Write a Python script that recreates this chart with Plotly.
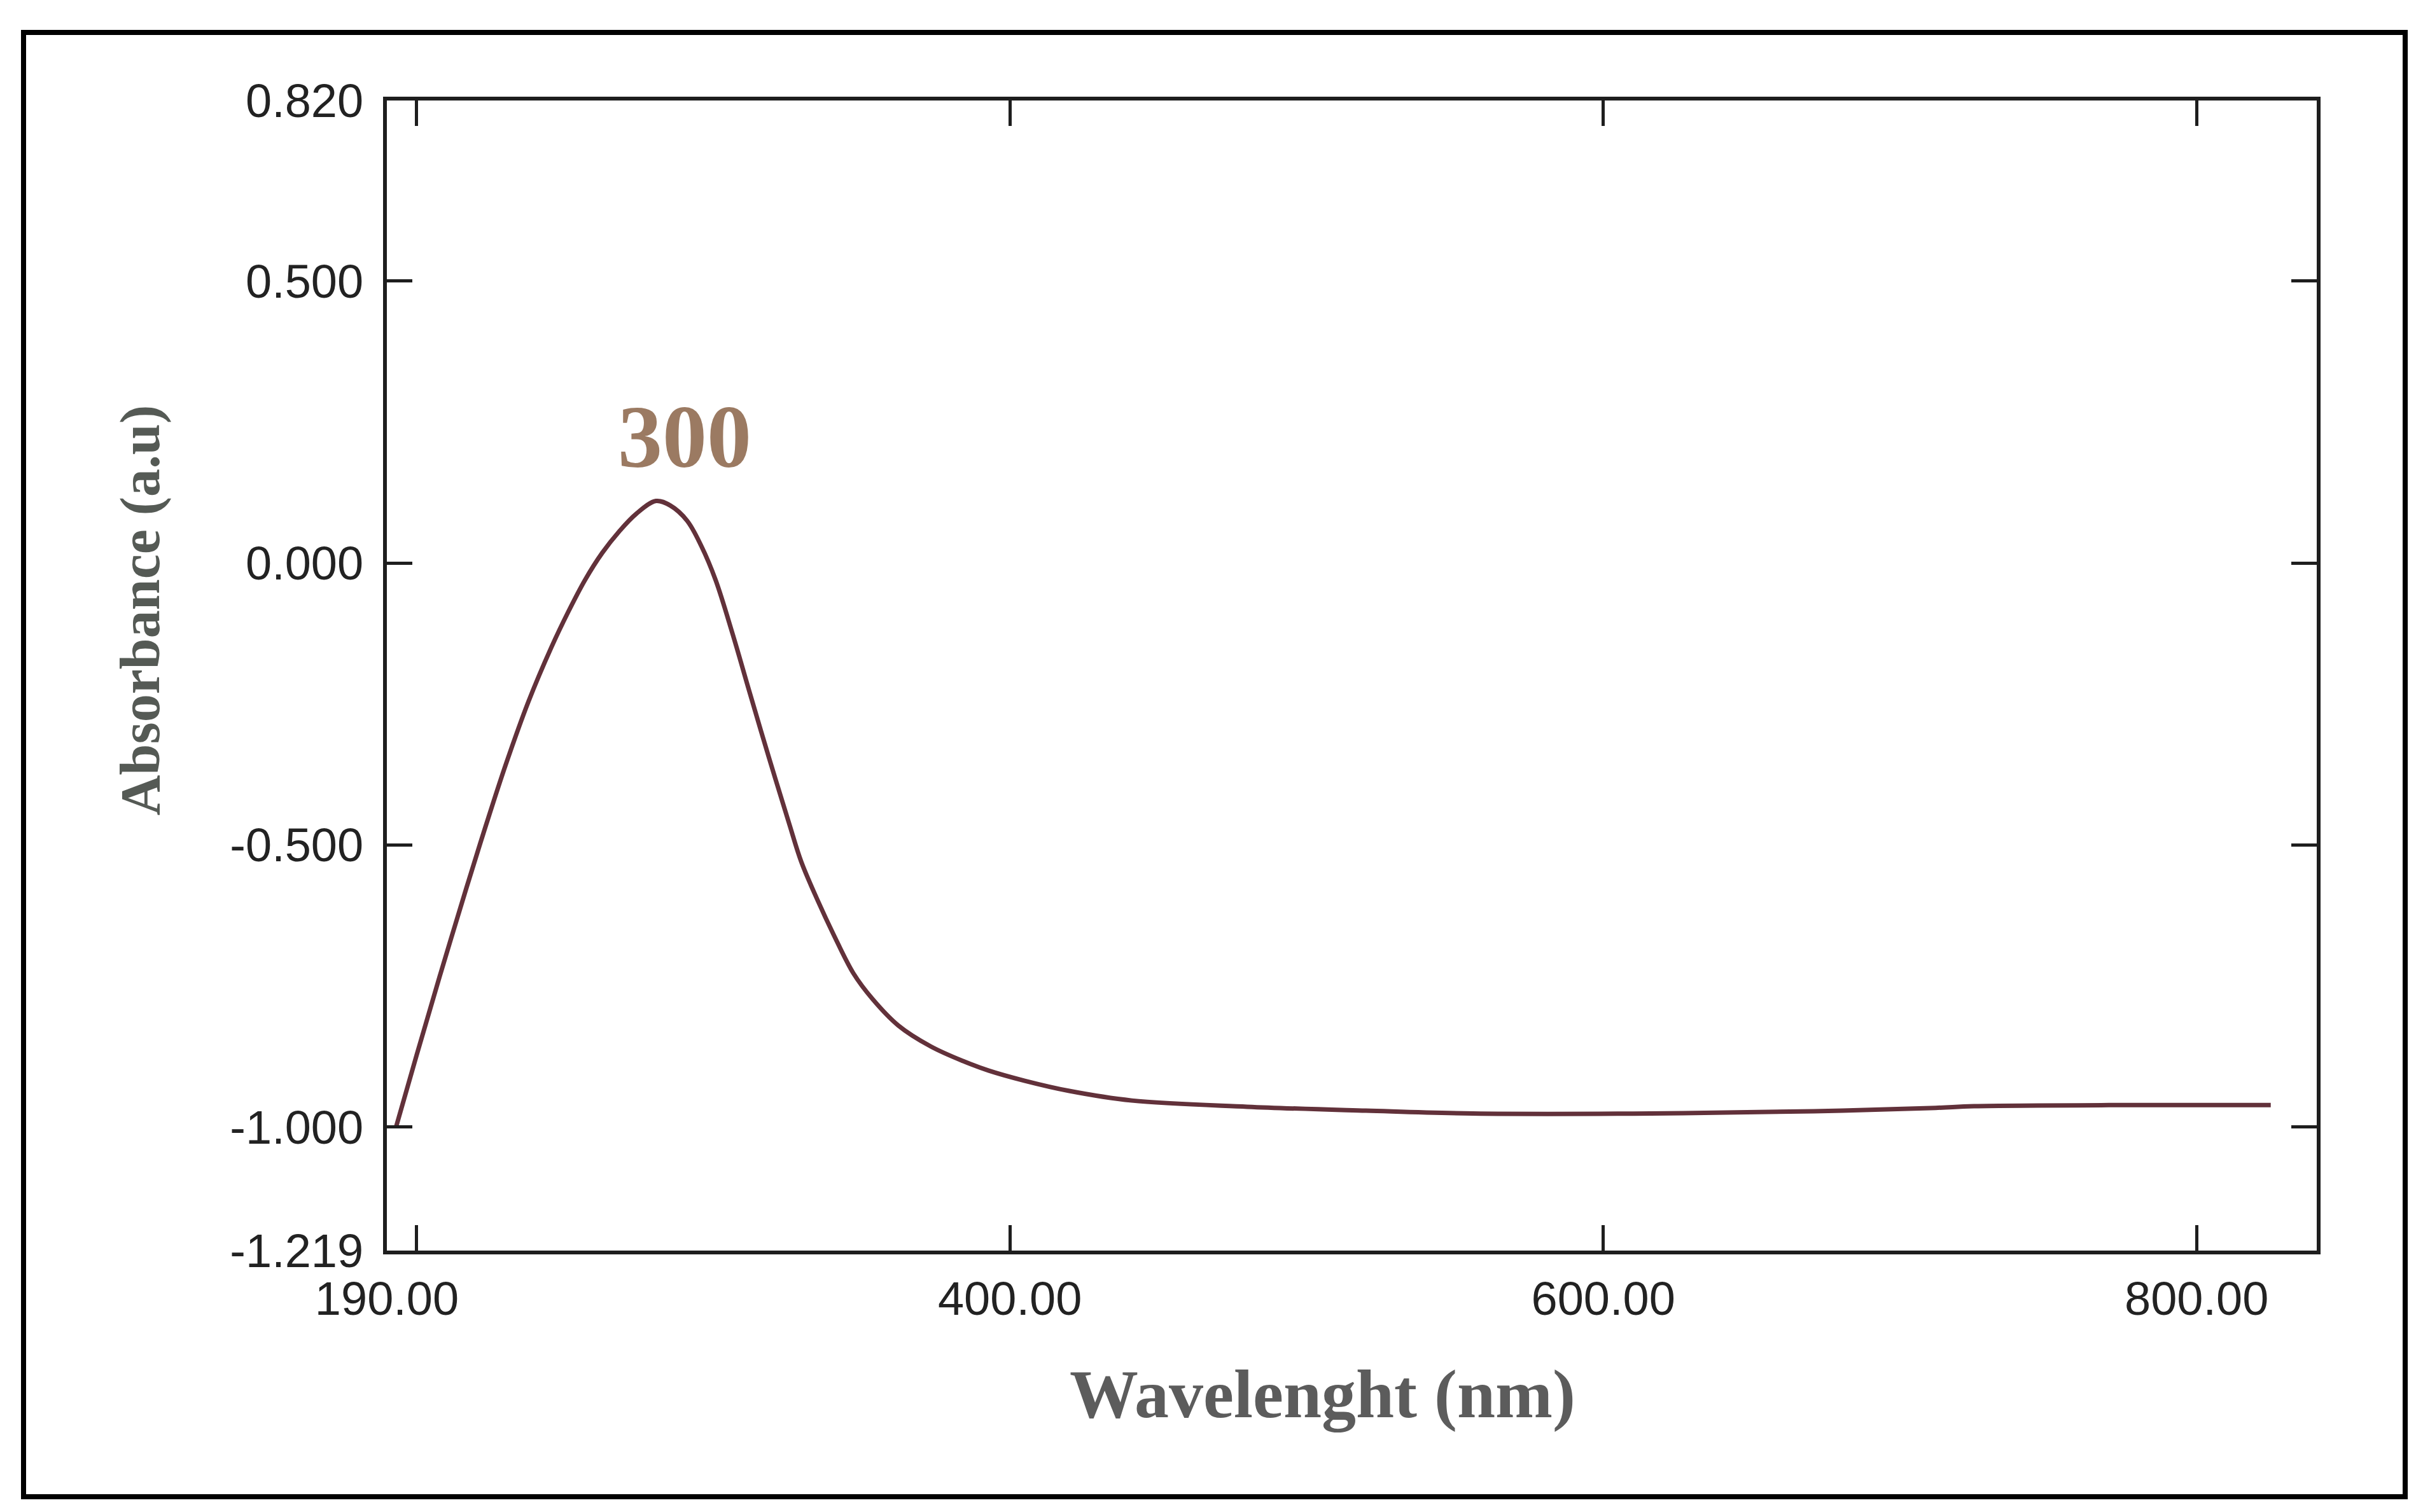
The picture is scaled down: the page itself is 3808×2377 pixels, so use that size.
import plotly.graph_objects as go

# ---- data ----
wavelength = [193.1, 200.0, 207.8, 216.7, 223.4, 230.1, 237.7, 245.4, 251.1, 256.8,
              262.6, 268.3, 274.0, 280.7, 285.5, 291.2, 296.0, 300.8, 306.5, 312.2,
              318.9, 325.6, 329.7, 335.2, 340.6, 347.2, 353.7, 362.4, 373.3, 384.2,
              392.9, 405.0, 420.0, 441.1, 480.0, 520.0, 556.0, 616.0, 671.0, 712.0,
              725.0, 780.0, 825.0]
absorbance = [-1.000, -0.873, -0.733, -0.578, -0.465, -0.357, -0.246, -0.150, -0.087, -0.030,
              0.018, 0.056, 0.087, 0.110, 0.102, 0.075, 0.030, -0.030, -0.125, -0.228,
              -0.347, -0.462, -0.530, -0.598, -0.659, -0.727, -0.773, -0.820, -0.857, -0.883,
              -0.900, -0.918, -0.936, -0.953, -0.964, -0.971, -0.976, -0.976, -0.972, -0.966,
              -0.963, -0.961, -0.961]

x_range = [190, 840.5]
y_range = [-1.219, 0.820]
x_label_vals = [190, 400, 600, 800]
x_label_text = ["190.00", "400.00", "600.00", "800.00"]
x_tick_vals = [200, 400, 600, 800]
y_tick_vals = [0.820, 0.500, 0.000, -0.500, -1.000, -1.219]
y_tick_text = ["0.820", "0.500", "0.000", "-0.500", "-1.000", "-1.219"]
peak_label = "300"
peak_label_pos = (290.3, 0.224)

x_title = "Wavelenght (nm)"
y_title = "Absorbance (a.u)"

W, H = 3808, 2377
L, R, T, B = 600, 175, 150, 419
pw = W - L - R
ph = H - T - B

def px_to_paper_x(px):
    return (px - L) / pw

def px_to_paper_y(py):
    return (H - B - py) / ph

fig = go.Figure()
fig.add_trace(go.Scatter(
    x=wavelength, y=absorbance, mode="lines",
    line=dict(color="#62313a", width=7, shape="spline", smoothing=1.0),
    showlegend=False, hoverinfo="skip"))
# helper trace to activate the tick-mark axis
fig.add_trace(go.Scatter(x=[], y=[], xaxis="x2", showlegend=False))

axis_line = "#1e1e1e"
tick_font = dict(family="Liberation Sans, Arial, sans-serif", size=74, color="#222222")

fig.update_layout(
    width=W, height=H,
    margin=dict(l=L, r=R, t=T, b=B, pad=0),
    paper_bgcolor="white", plot_bgcolor="white",
    xaxis=dict(range=x_range, tickvals=x_label_vals, ticktext=x_label_text,
               ticks="", showgrid=False, zeroline=False,
               showline=True, linecolor=axis_line, linewidth=6, mirror=True,
               tickfont=tick_font, ticklabelstandoff=6),
    xaxis2=dict(range=x_range, overlaying="x", side="bottom",
                tickvals=x_tick_vals, showticklabels=False,
                ticks="inside", ticklen=40, tickwidth=5, tickcolor=axis_line,
                showgrid=False, zeroline=False,
                showline=True, linecolor=axis_line, linewidth=6, mirror="ticks"),
    yaxis=dict(range=y_range, tickvals=y_tick_vals, ticktext=y_tick_text,
               ticks="inside", ticklen=40, tickwidth=5, tickcolor=axis_line,
               showgrid=False, zeroline=False,
               showline=True, linecolor=axis_line, linewidth=6, mirror="ticks",
               tickfont=tick_font, ticklabelstandoff=16),
)

# axis titles
fig.add_annotation(text=f"<b>{x_title}</b>", xref="paper", yref="paper",
                   x=px_to_paper_x(2070), y=px_to_paper_y(2184),
                   showarrow=False, xanchor="center", yanchor="middle",
                   font=dict(family="Liberation Serif, Times New Roman, serif", size=108, color="#5c5c5c"))
fig.add_annotation(text=f"<b>{y_title}</b>", xref="paper", yref="paper",
                   x=px_to_paper_x(212), y=px_to_paper_y(952), textangle=-90,
                   showarrow=False, xanchor="center", yanchor="middle",
                   font=dict(family="Liberation Serif, Times New Roman, serif", size=88, color="#555a55"))
# peak label
fig.add_annotation(text=f"<b>{peak_label}</b>", x=peak_label_pos[0], y=peak_label_pos[1],
                   xref="x", yref="y", showarrow=False,
                   font=dict(family="Liberation Serif, Times New Roman, serif", size=140, color="#9b7a62"))

# outer frame
fig.add_shape(type="rect", xref="paper", yref="paper",
              x0=px_to_paper_x(29), x1=px_to_paper_x(3772),
              y0=px_to_paper_y(2345), y1=px_to_paper_y(43),
              line=dict(color="black", width=8), fillcolor="rgba(0,0,0,0)", layer="above")

fig.write_html("out.html")
